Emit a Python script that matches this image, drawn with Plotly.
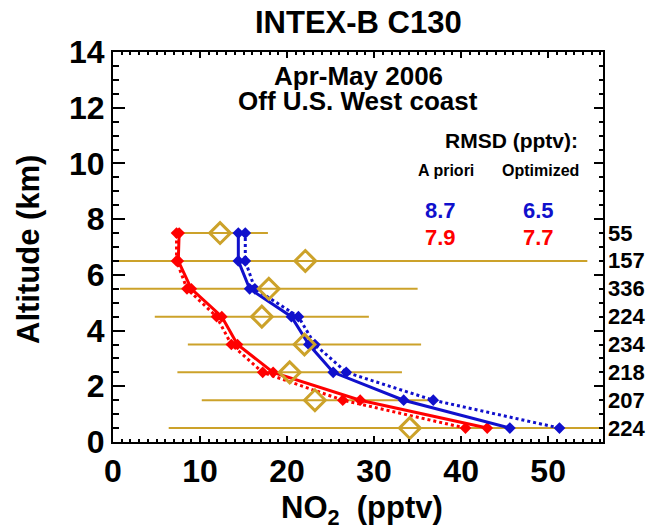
import plotly.graph_objects as go

# ---------------- data ----------------
altitude_km = [0.5, 1.5, 2.5, 3.5, 4.5, 5.5, 6.5, 7.5]
obs_mean = [34.1, 23.2, 20.3, 22.0, 17.1, 17.9, 22.1, 12.3]
obs_std = [27.7, 13.0, 12.9, 13.4, 12.3, 17.1, 32.4, 5.5]
obs_count = [224, 207, 218, 234, 224, 336, 157, 55]

red_solid = [43.0, 28.4, 18.4, 14.3, 12.5, 9.0, 7.5, 7.6]
red_dotted = [40.5, 26.4, 17.2, 13.6, 11.9, 8.5, 7.3, 7.3]
blue_solid = [45.6, 33.4, 25.3, 22.5, 20.5, 15.7, 14.4, 14.4]
blue_dotted = [51.3, 36.8, 26.8, 23.2, 21.3, 16.3, 15.2, 15.2]

rmsd_apriori = {"blue": "8.7", "red": "7.9"}
rmsd_optimized = {"blue": "6.5", "red": "7.7"}

x_ticks = [0, 10, 20, 30, 40, 50]
y_ticks = [0, 2, 4, 6, 8, 10, 12, 14]
x_range = [0, 56.3]
y_range = [0, 14]

# ---------------- style ----------------
GOLD = "#CCA22A"
RED = "#FF0000"
BLUE = "#1010CC"
FONT = "Liberation Sans"

W, H = 648, 532
L, R, T, B = 113, 603, 52, 442  # plot area in pixels


def px(xp):
    return (xp - L) / (R - L)


def py(yp):
    return (B - yp) / (B - T)


fig = go.Figure()

# observation spread (horizontal bars)
fig.add_trace(go.Scatter(
    x=obs_mean, y=altitude_km, mode="markers",
    marker=dict(size=1, color="rgba(0,0,0,0)"),
    error_x=dict(type="data", array=obs_std, symmetric=True,
                 color=GOLD, thickness=2, width=0),
    showlegend=False, hoverinfo="skip"))

for vals, color, dash in [
    (red_dotted, RED, "dot"),
    (red_solid, RED, "solid"),
    (blue_dotted, BLUE, "dot"),
    (blue_solid, BLUE, "solid"),
]:
    fig.add_trace(go.Scatter(
        x=vals, y=altitude_km, mode="lines+markers",
        line=dict(color=color, width=3, dash=dash),
        marker=dict(symbol="diamond", size=9, color=color),
        showlegend=False))

# observation means (open diamonds)
fig.add_trace(go.Scatter(
    x=obs_mean, y=altitude_km, mode="markers",
    marker=dict(symbol="diamond-open", size=16, color=GOLD,
                line=dict(width=3, color=GOLD)),
    showlegend=False))

ann = []
# title and subtitle
ann.append(dict(text="<b>INTEX-B C130</b>", x=px(358), y=py(22),
                font=dict(size=31, color="black")))
ann.append(dict(text="<b>Apr-May 2006</b>", x=px(358), y=py(76),
                font=dict(size=26, color="black")))
ann.append(dict(text="<b>Off U.S. West coast</b>", x=px(358), y=py(101),
                font=dict(size=26, color="black")))
ann.append(dict(text="<b>RMSD (pptv):</b>", x=px(580), y=py(140), xanchor="right",
                font=dict(size=21, color="black")))
ann.append(dict(text="<b>A priori</b>", x=px(446), y=py(170),
                font=dict(size=16, color="black")))
ann.append(dict(text="<b>Optimized</b>", x=px(540), y=py(170),
                font=dict(size=16, color="black")))
for key, yy, col in [("blue", 210, BLUE), ("red", 237, RED)]:
    ann.append(dict(text="<b>%s</b>" % rmsd_apriori[key], x=px(440), y=py(yy),
                    font=dict(size=22, color=col)))
    ann.append(dict(text="<b>%s</b>" % rmsd_optimized[key], x=px(538), y=py(yy),
                    font=dict(size=22, color=col)))
# counts on the right
for a, n in zip(altitude_km, obs_count):
    ann.append(dict(text="<b>%d</b>" % n, xref="paper", yref="y", x=1, y=a,
                    xanchor="left", xshift=3, font=dict(size=22, color="black")))
# axis titles
ann.append(dict(text="<b>Altitude (km)</b>", x=px(28), y=py(250), textangle=-90,
                font=dict(size=31, color="black")))
ann.append(dict(text="<b>NO<sub>2</sub>  (pptv)</b>", x=px(362), y=py(510),
                font=dict(size=31, color="black")))

for a in ann:
    a.setdefault("xref", "paper")
    a.setdefault("yref", "paper")
    a.setdefault("xanchor", "center")
    a.setdefault("yanchor", "middle")
    a["showarrow"] = False
    a["font"]["family"] = FONT

tickfont = dict(family=FONT, size=32, color="black", weight="bold")
base = dict(showline=True, linecolor="black", linewidth=2, mirror=True,
            ticks="inside", tickcolor="black", tickwidth=2,
            showgrid=False, zeroline=False)
mirror_ax = dict(showline=False, ticks="inside", tickcolor="black", tickwidth=2,
                 showgrid=False, zeroline=False, showticklabels=False)

xminor = dict(dtick=1, ticks="inside", ticklen=3, tickcolor="black", tickwidth=1.5)
yminor = dict(dtick=0.5, ticks="inside", ticklen=6, tickcolor="black", tickwidth=1.5)
yminor_r = dict(dtick=0.5, ticks="inside", ticklen=4, tickcolor="black", tickwidth=1.5)

fig.update_layout(
    width=W, height=H, autosize=False,
    margin=dict(l=L, r=W - R, t=T, b=H - B),
    paper_bgcolor="white", plot_bgcolor="white",
    xaxis=dict(range=x_range, tickvals=x_ticks, ticklen=6, minor=xminor,
               tickfont=tickfont, **base),
    yaxis=dict(range=y_range, tickvals=y_ticks, ticklen=12, minor=yminor,
               tickfont=tickfont, **base),
    xaxis2=dict(range=x_range, tickvals=x_ticks, ticklen=6, minor=xminor,
                overlaying="x", side="top", **mirror_ax),
    yaxis2=dict(range=y_range, tickvals=y_ticks, ticklen=9, minor=yminor_r,
                overlaying="y", side="right", **mirror_ax),
    annotations=ann,
)

# invisible trace so the mirror axes are drawn
fig.add_trace(go.Scatter(x=[x_range[0]], y=[y_range[0]], xaxis="x2", yaxis="y2",
                         mode="markers", marker=dict(opacity=0), showlegend=False,
                         hoverinfo="skip"))

fig.write_html("out.html")
